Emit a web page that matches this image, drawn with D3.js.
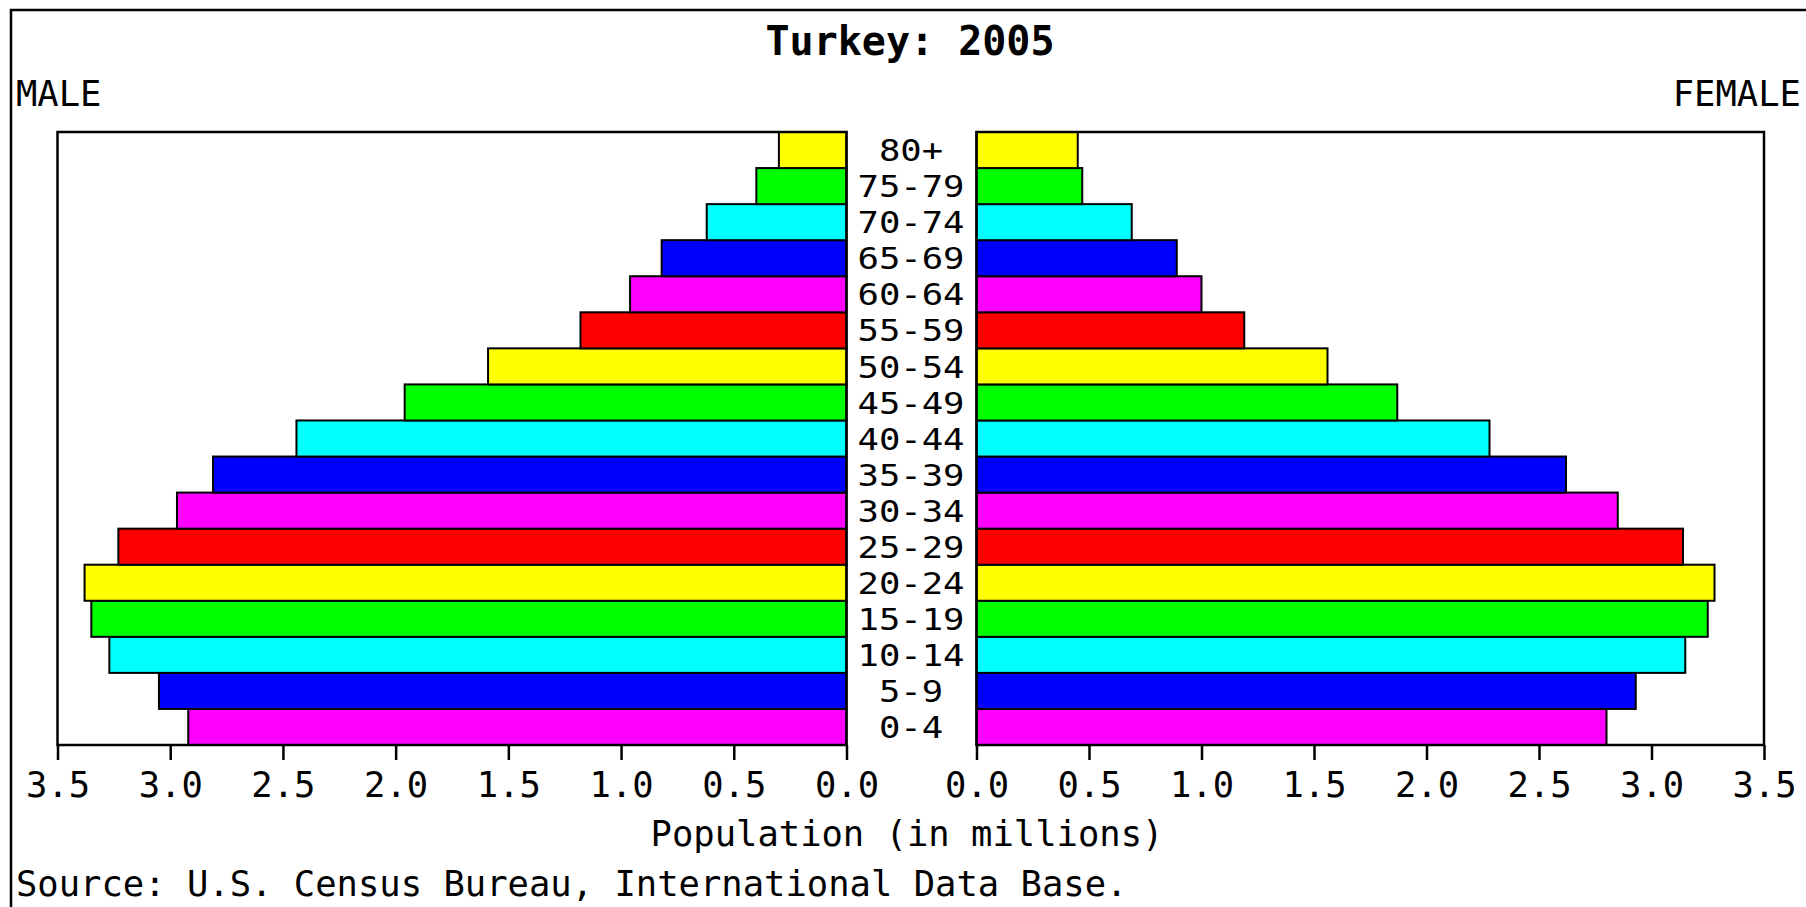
<!DOCTYPE html>
<html>
<head>
<meta charset="utf-8">
<script src="https://cdn.jsdelivr.net/npm/d3@7"></script>
<style>
  body { margin: 0; background: #fff; }
  text { font-family: "DejaVu Sans Mono", "Liberation Mono", monospace; fill: #000; }
</style>
</head>
<body>
<div id="chart"></div>
<script>
// age groups from youngest to oldest
const ages = ["0-4","5-9","10-14","15-19","20-24","25-29","30-34","35-39","40-44",
              "45-49","50-54","55-59","60-64","65-69","70-74","75-79","80+"];
// population in millions
const male   = [2.92,3.05,3.27,3.35,3.38,3.23,2.97,2.81,2.44,1.96,1.59,1.18,0.96,0.82,0.62,0.40,0.30];
const female = [2.80,2.93,3.15,3.25,3.28,3.14,2.85,2.62,2.28,1.87,1.56,1.19,1.00,0.89,0.69,0.47,0.45];
const barColors = ["#ff00ff","#0000ff","#00ffff","#00ff00","#ffff00","#ff0000"];
const tickVals = [0,0.5,1,1.5,2,2.5,3,3.5];

const w = 1806, h = 907;
const plotTop = 132, plotBottom = 745;

const svg = d3.select("#chart").append("svg")
  .attr("width", w)
  .attr("height", h);

svg.append("rect").attr("width", w).attr("height", h).attr("fill", "#fff");

// outer frame (runs off the right and bottom edges)
svg.append("rect")
  .attr("x", 11).attr("y", 10)
  .attr("width", w + 20).attr("height", h + 20)
  .attr("fill", "none").attr("stroke", "#000").attr("stroke-width", 2.5);

const xMale = d3.scaleLinear().domain([0, 3.5]).range([846.5, 57.5]);
const xFemale = d3.scaleLinear().domain([0, 3.5]).range([976.5, 1764]);
const y = d3.scaleBand().domain(ages.slice().reverse()).range([plotTop, plotBottom]).padding(0);

const rows = ages.map((a, i) => ({age: a, m: male[i], f: female[i], c: barColors[i % 6]}));

// male bars
svg.selectAll(".male").data(rows).enter().append("rect")
  .attr("class", "male")
  .attr("x", d => xMale(d.m))
  .attr("y", d => y(d.age))
  .attr("width", d => xMale(0) - xMale(d.m))
  .attr("height", y.bandwidth())
  .attr("fill", d => d.c)
  .attr("stroke", "#000").attr("stroke-width", 2);

// female bars
svg.selectAll(".female").data(rows).enter().append("rect")
  .attr("class", "female")
  .attr("x", xFemale(0))
  .attr("y", d => y(d.age))
  .attr("width", d => xFemale(d.f) - xFemale(0))
  .attr("height", y.bandwidth())
  .attr("fill", d => d.c)
  .attr("stroke", "#000").attr("stroke-width", 2);

// plot frames
[xMale, xFemale].forEach(s => {
  const r = s.range();
  svg.append("rect")
    .attr("x", Math.min(r[0], r[1])).attr("y", plotTop)
    .attr("width", Math.abs(r[1] - r[0])).attr("height", plotBottom - plotTop)
    .attr("fill", "none").attr("stroke", "#000").attr("stroke-width", 2.5);
});

// axes
[xMale, xFemale].forEach(s => {
  const g = svg.append("g")
    .attr("transform", "translate(0," + plotBottom + ")")
    .call(d3.axisBottom(s).tickValues(tickVals).tickFormat(d3.format(".1f"))
      .tickSize(15).tickPadding(12));
  g.select(".domain").remove();
  g.selectAll(".tick line").attr("stroke", "#000").attr("stroke-width", 2.5);
  g.selectAll(".tick text")
    .style("font-family", "'DejaVu Sans Mono', monospace")
    .style("font-size", "35.5px");
});

// age labels (tight rows, so glyphs are stretched sideways instead of enlarged)
svg.selectAll(".age").data(rows).enter().append("text")
  .attr("class", "age")
  .attr("x", 911)
  .attr("y", d => y(d.age) + y.bandwidth() / 2)
  .attr("dy", "0.36em")
  .attr("text-anchor", "middle")
  .attr("textLength", d => d.age.length * 21.4)
  .attr("lengthAdjust", "spacingAndGlyphs")
  .style("font-size", "31px")
  .text(d => d.age);

svg.append("text")
  .attr("x", 910).attr("y", 55)
  .attr("text-anchor", "middle")
  .style("font-size", "40px").style("font-weight", "bold")
  .text("Turkey: 2005");

svg.append("text")
  .attr("x", 16).attr("y", 106)
  .style("font-size", "35.5px")
  .text("MALE");

svg.append("text")
  .attr("x", 1801).attr("y", 106)
  .attr("text-anchor", "end")
  .style("font-size", "35.5px")
  .text("FEMALE");

svg.append("text")
  .attr("x", 907).attr("y", 846)
  .attr("text-anchor", "middle")
  .style("font-size", "35.5px")
  .text("Population (in millions)");

svg.append("text")
  .attr("x", 16).attr("y", 896)
  .style("font-size", "35.5px")
  .text("Source: U.S. Census Bureau, International Data Base.");
</script>
</body>
</html>
